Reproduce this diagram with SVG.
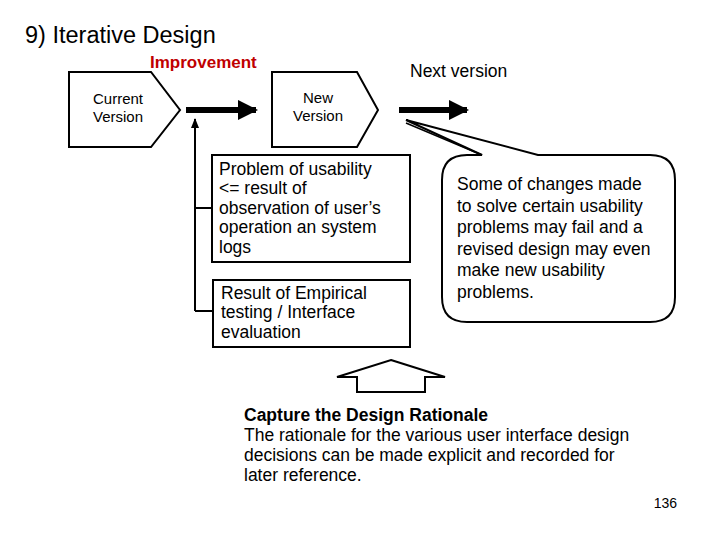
<svg xmlns="http://www.w3.org/2000/svg" width="720" height="540" viewBox="0 0 720 540">
<style>
text{font-family:"Liberation Sans",Arial,sans-serif;fill:#000}
.s{font-size:15px}
.m{font-size:17.5px}
.b{fill:#fff;stroke:#000;stroke-width:2}
.l{fill:none;stroke:#000}
</style>
<defs>
<marker id="ah" viewBox="0 0 10 10" refX="9" refY="5" markerWidth="3.4" markerHeight="3.4" orient="auto"><path d="M0,0L10,5L0,10z" fill="#000"/></marker>
<marker id="ah2" viewBox="0 0 10 10" refX="9" refY="5" markerWidth="5" markerHeight="5" orient="auto"><path d="M0,1L10,5L0,9z" fill="#000"/></marker>
</defs>
<rect width="720" height="540" fill="#fff"/>
<text x="25" y="43" style="font-size:23.5px">9) Iterative Design</text>
<text x="150" y="68" class="m" style="fill:#c00000;font-weight:bold;font-size:17px">Improvement</text>
<text x="410" y="77" class="m">Next version</text>
<g id="current"><path class="b" d="M69,72H151L180,110L151,147H69Z"/><text x="118" y="104" class="s" text-anchor="middle">Current</text><text x="118" y="122" class="s" text-anchor="middle">Version</text></g>
<g id="new"><path class="b" d="M272,72H357L378,110L357,147H272Z"/><text x="318" y="103" class="s" text-anchor="middle">New</text><text x="318" y="121" class="s" text-anchor="middle">Version</text></g>
<g id="box1"><rect class="b" x="212" y="155" width="198" height="107"/><text class="m"><tspan x="219" y="175">Problem of usability</tspan><tspan x="219" y="194">&lt;= result of</tspan><tspan x="219" y="214">observation of user’s</tspan><tspan x="219" y="233">operation an system</tspan><tspan x="219" y="253">logs</tspan></text></g>
<g id="box2"><rect class="b" x="213" y="280" width="197" height="67"/><text class="m"><tspan x="221" y="299">Result of Empirical</tspan><tspan x="221" y="318">testing / Interface</tspan><tspan x="221" y="338">evaluation</tspan></text></g>
<g id="bubble"><path class="b" d="M482,155L406,120L538,155H650Q675,155 675,180V297Q675,322 650,322H467Q442,322 442,297V180Q442,155 467,155Z"/><path class="l" d="M406,123L482,155" style="stroke-width:1.5"/><text class="m"><tspan x="457" y="190">Some of changes made</tspan><tspan x="457" y="212">to solve certain usability</tspan><tspan x="457" y="233">problems may fail and a</tspan><tspan x="457" y="255">revised design may even</tspan><tspan x="457" y="276">make new usability</tspan><tspan x="457" y="298">problems.</tspan></text></g>
<g id="bigarrow"><path class="b" d="M391,360L445,377H425V392H357V377H337Z"/></g>
<g id="rationale"><text class="m"><tspan x="244" y="421" font-weight="bold">Capture the Design Rationale</tspan><tspan x="244" y="441">The rationale for the various user interface design</tspan><tspan x="244" y="461">decisions can be made explicit and recorded for</tspan><tspan x="244" y="481">later reference.</tspan></text></g>
<text x="677" y="508" text-anchor="end" style="font-size:14px">136</text>
<g id="connectors">
<path class="l" d="M186,110H256" style="stroke-width:6" marker-end="url(#ah)"/>
<path class="l" d="M399,110H467" style="stroke-width:6" marker-end="url(#ah)"/>
<path class="l" d="M195,311V119" style="stroke-width:2" marker-end="url(#ah2)"/>
<path class="l" d="M195,208H212M195,311H213" style="stroke-width:2"/>
</g>
</svg>
